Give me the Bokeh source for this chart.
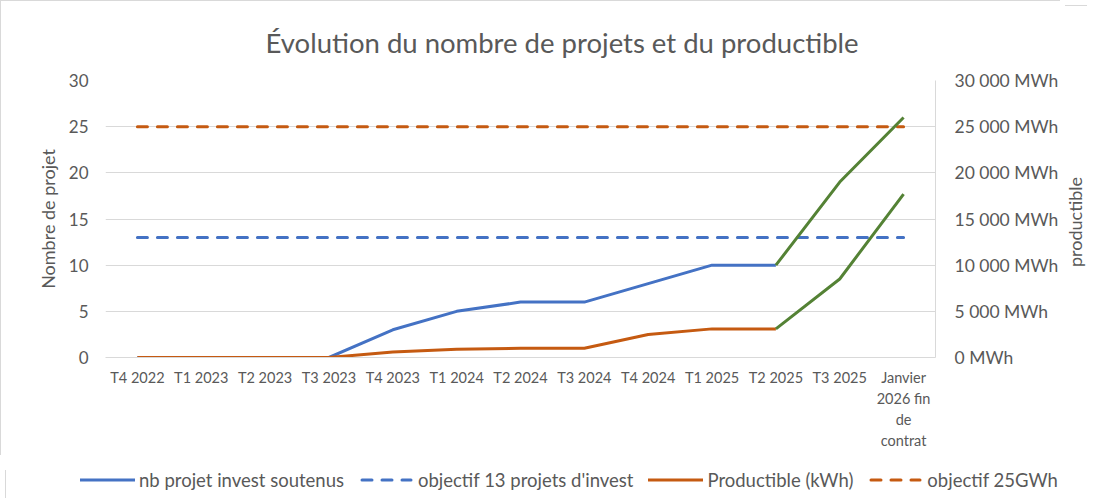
from bokeh.plotting import figure
from bokeh.layouts import column, row
from bokeh.models import Range1d, LinearAxis, FixedTicker, Div
from bokeh.embed import file_html
from bokeh.resources import INLINE

# ---- data ----
categories = ["T4 2022", "T1 2023", "T2 2023", "T3 2023", "T4 2023", "T1 2024", "T2 2024",
              "T3 2024", "T4 2024", "T1 2025", "T2 2025", "T3 2025", "Janvier 2026 fin de contrat"]
last_label_lines = ["Janvier", "2026 fin", "de", "contrat"]

nb_projets = [0, 0, 0, 0, 3, 5, 6, 6, 8, 10, 10]
nb_projets_prevision = [10, 19, 26]
productible_mwh = [0, 0, 0, 0, 600, 900, 1000, 1000, 2500, 3100, 3100]
productible_prevision_mwh = [3100, 8500, 17700]
objectif_projets = 13
objectif_mwh = 25000

left_ticks = [0, 5, 10, 15, 20, 25, 30]
right_ticks = [0, 5000, 10000, 15000, 20000, 25000, 30000]
right_tick_labels = ["0 MWh", "5 000 MWh", "10 000 MWh", "15 000 MWh", "20 000 MWh",
                     "25 000 MWh", "30 000 MWh"]

legend_labels = ["nb projet invest soutenus", "objectif 13 projets d'invest",
                 "Productible (kWh)", "objectif 25GWh"]

BLUE = "#4472C4"
ORANGE = "#C55A11"
GREEN = "#548235"
TXT = "#595959"
GRID = "#d9d9d9"
FONT = "Lato"

xi = list(range(len(categories)))          # category positions on the x axis
n = len(nb_projets)

p = figure(x_range=Range1d(-0.5, len(categories) - 0.5),
           y_range=Range1d(0, 30),
           width=1060, height=455,
           output_backend="svg", toolbar_location=None,
           min_border_left=104, min_border_right=126,
           min_border_top=79, min_border_bottom=99)
p.extra_y_ranges = {"mwh": Range1d(0, 30000)}
p.outline_line_color = None
p.styles = {"border-left": "1px solid #d9d9d9", "border-top": "1px solid #d9d9d9"}

# title
p.title.text = "Évolution du nombre de projets et du productible"
p.title.text_font = FONT
p.title.text_font_size = "27.5px"
p.title.text_font_style = "normal"
p.title.text_color = TXT
p.title.align = "left"
p.title.offset = 160
p.title.standoff = 44

# grid
p.xgrid.visible = False
p.ygrid.grid_line_color = GRID
p.ygrid.grid_line_width = 1

# left axis
ya = p.yaxis[0]
ya.ticker = FixedTicker(ticks=left_ticks)
ya.axis_line_color = None
ya.major_tick_line_color = None
ya.minor_tick_line_color = None
ya.major_label_text_font = FONT
ya.major_label_text_font_size = "17px"
ya.major_label_text_color = TXT
ya.major_label_standoff = 11
ya.axis_label = "Nombre de projet"
ya.axis_label_text_font = FONT
ya.axis_label_text_font_size = "18px"
ya.axis_label_text_font_style = "normal"
ya.axis_label_text_color = TXT
ya.axis_label_standoff = 7

# right axis
ra = LinearAxis(y_range_name="mwh", ticker=FixedTicker(ticks=right_ticks))
ra.major_label_overrides = dict(zip(right_ticks, right_tick_labels))
ra.axis_line_color = GRID
ra.major_tick_line_color = None
ra.minor_tick_line_color = None
ra.major_label_text_font = FONT
ra.major_label_text_font_size = "17.5px"
ra.major_label_text_color = TXT
ra.major_label_standoff = 13
p.add_layout(ra, "right")


def style_xaxis(ax, standoff):
    ax.axis_line_color = None
    ax.major_tick_line_color = None
    ax.minor_tick_line_color = None
    ax.major_tick_out = 0
    ax.major_tick_in = 0
    ax.minor_tick_out = 0
    ax.minor_tick_in = 0
    ax.major_label_text_font = FONT
    ax.major_label_text_font_size = "14.5px"
    ax.major_label_text_color = TXT
    ax.major_label_standoff = standoff


# bottom axis (first line of every category label)
xa = p.xaxis[0]
style_xaxis(xa, 11)
xa.axis_line_color = GRID
xa.ticker = FixedTicker(ticks=xi)
first_lines = categories[:-1] + [last_label_lines[0]]
xa.major_label_overrides = dict(zip(xi, first_lines))

# remaining lines of the last (wrapped) category label
for line in last_label_lines[1:]:
    ax = LinearAxis(ticker=FixedTicker(ticks=[xi[-1]]))
    style_xaxis(ax, 1)
    ax.major_label_overrides = {xi[-1]: line}
    p.add_layout(ax, "below")

p.line(xi[:n], nb_projets, line_color=BLUE, line_width=3)
p.line(xi, [objectif_projets] * len(xi), line_color=BLUE,
       line_width=3, line_dash="10 10", line_cap="round")
p.line(xi[:n], productible_mwh, y_range_name="mwh", line_color=ORANGE, line_width=3)
p.line(xi, [objectif_mwh] * len(xi), y_range_name="mwh",
       line_color=ORANGE, line_width=3, line_dash="10 10", line_cap="round")
p.line(xi[n - 1:], nb_projets_prevision, line_color=GREEN, line_width=3)
p.line(xi[n - 1:], productible_prevision_mwh, y_range_name="mwh", line_color=GREEN, line_width=3)

# ---- right axis title (reads bottom-to-top) ----
right_title = Div(
    text=('<div style="position:relative;width:22px;height:455px;">'
          '<span style="position:absolute;left:11px;top:216px;white-space:nowrap;'
          'transform:translate(-50%,-50%) rotate(-90deg);'
          f'font-family:{FONT};font-size:18px;color:{TXT};">productible</span></div>'),
    width=22, height=455, styles={"border-top": "1px solid #d9d9d9"})

# ---- legend strip under the chart ----
legend_styles = [(BLUE, False), (BLUE, True), (ORANGE, False), (ORANGE, True)]
items_html = []
for lab, (col, dashed) in zip(legend_labels, legend_styles):
    dash = ' stroke-dasharray="10 10" stroke-linecap="round"' if dashed else ''
    x1, x2 = (3, 52) if dashed else (0, 55)
    items_html.append(
        '<span style="display:inline-flex;align-items:center;margin-right:15px;">'
        f'<svg width="55" height="20"><line x1="{x1}" y1="10" x2="{x2}" y2="10" '
        f'stroke="{col}" stroke-width="3"{dash}/></svg>'
        f'<span style="margin-left:4px;">{lab}</span></span>')
legend_div = Div(
    text=('<div style="display:flex;align-items:center;height:20px;padding-top:0px;'
          f'padding-left:74px;font-family:{FONT};font-size:18.5px;color:{TXT};'
          'white-space:nowrap;">' + "".join(items_html) + '</div>'),
    width=1082, height=28, styles={"border-left": "1px solid #d9d9d9"})

layout = column(row(p, right_title, spacing=0), legend_div, spacing=0)
open("out.html", "w").write(file_html(layout, INLINE))
